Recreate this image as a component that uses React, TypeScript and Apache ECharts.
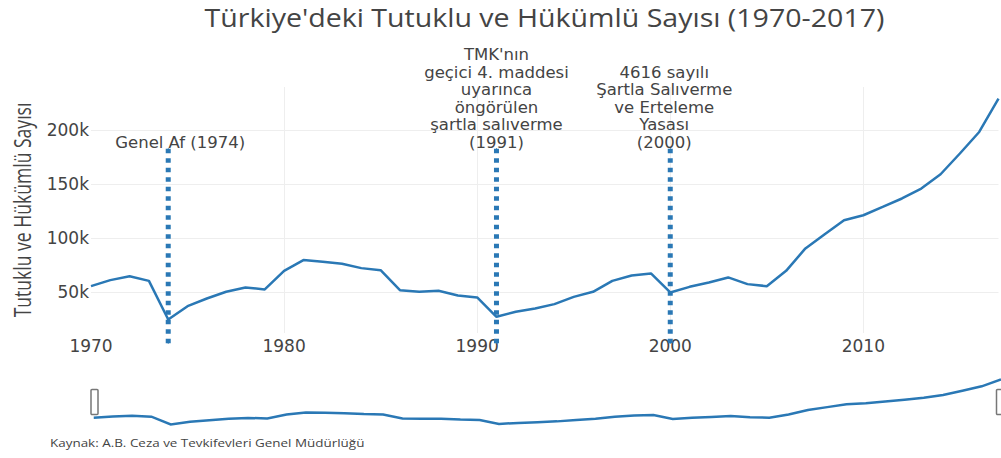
import React, { useEffect, useRef } from 'react';
import * as echarts from 'echarts';

const years = [
  1970, 1971, 1972, 1973, 1974, 1975, 1976, 1977, 1978, 1979,
  1980, 1981, 1982, 1983, 1984, 1985, 1986, 1987, 1988, 1989,
  1990, 1991, 1992, 1993, 1994, 1995, 1996, 1997, 1998, 1999,
  2000, 2001, 2002, 2003, 2004, 2005, 2006, 2007, 2008, 2009,
  2010, 2011, 2012, 2013, 2014, 2015, 2016, 2017,
];
const prisoners = [
  55800, 61400, 65000, 60700, 25000, 37300, 44400, 50600, 54600, 52800,
  70000, 79900, 78300, 76500, 72500, 70600, 52100, 50600, 51500, 47200,
  45400, 27500, 32100, 35200, 39200, 45900, 50600, 60700, 65700, 67600,
  50000, 55200, 59200, 63900, 57700, 55800, 70000, 90700, 103900, 116800,
  121400, 129100, 136900, 146100, 159300, 178500, 198400, 229300,
];

const annotationYears = [1974, 1991, 2000];
const annotationTexts = [
  'Genel Af (1974)',
  "TMK'nın\ngeçici 4. maddesi\nuyarınca\nöngörülen\nşartla salıverme\n(1991)",
  '4616 sayılı\nŞartla Salıverme\nve Erteleme\nYasası\n(2000)',
];
const annotationTop = 183000;
const annotationBottom = 3000;

const titleText = "Türkiye'deki Tutuklu ve Hükümlü Sayısı (1970-2017)";
const yAxisTitle = 'Tutuklu ve Hükümlü Sayısı';
const sourceText = 'Kaynak: A.B. Ceza ve Tevkifevleri Genel Müdürlüğü';

const LINE_COLOR = '#2a78b5';
const TEXT_COLOR = '#444';
const labelOffsets = [12, 0, -6];

function measure(font: string, text: string): number {
  const c = document.createElement('canvas');
  const ctx = c.getContext('2d');
  if (!ctx) return 100;
  ctx.font = font;
  return ctx.measureText(text).width;
}

export default function App() {
  const ref = useRef<HTMLDivElement>(null);

  useEffect(() => {
    document.body.style.margin = '0';
    if (!ref.current) return;
    const chart = echarts.init(ref.current, undefined, { renderer: 'svg' });

    const titleW = measure("26px 'Open Sans'", titleText);
    const yTitleW = measure("24px 'Open Sans'", yAxisTitle);
    const srcW = measure("11px 'Open Sans'", sourceText);

    const annotationSeries = annotationYears.map((yr, i) => ({
      type: 'line',
      data: [
        {
          value: [yr, annotationTop],
          label: {
            show: true,
            position: 'top',
            distance: 0,
            offset: [labelOffsets[i], 3],
            formatter: annotationTexts[i],
            color: TEXT_COLOR,
            fontFamily: 'DejaVu Sans',
            fontSize: 16.5,
            lineHeight: 17.5,
            align: 'center',
          },
        },
        { value: [yr, annotationBottom] },
      ],
      clip: false,
      silent: true,
      symbol: 'circle',
      symbolSize: 1,
      showSymbol: true,
      itemStyle: { color: LINE_COLOR },
      lineStyle: { color: LINE_COLOR, width: 5, type: [4.5, 5] },
      z: 3,
    }));

    const option: any = {
      animation: false,
      grid: {
        left: 91,
        right: 2.5,
        top: 87,
        bottom: 125,
        containLabel: false,
        outerBoundsMode: 'none',
      },
      xAxis: {
        type: 'value',
        min: 1970,
        max: 2017,
        axisLine: { show: false },
        axisTick: { show: false },
        splitLine: {
          show: true,
          showMinLine: false,
          showMaxLine: false,
          lineStyle: { color: '#eee', width: 1 },
        },
        axisLabel: {
          showMaxLabel: false,
          margin: 4,
          color: TEXT_COLOR,
          fontSize: 17,
          fontFamily: 'DejaVu Sans',
          formatter: (v: number) => String(v),
        },
      },
      yAxis: {
        type: 'value',
        min: 12500,
        max: 240000,
        axisLine: { show: false },
        axisTick: { show: false },
        splitLine: {
          show: true,
          showMinLine: false,
          showMaxLine: false,
          lineStyle: { color: '#eee', width: 1 },
        },
        axisLabel: {
          showMinLabel: false,
          showMaxLabel: false,
          margin: 2,
          color: TEXT_COLOR,
          fontSize: 17,
          fontFamily: 'DejaVu Sans',
          formatter: (v: number) => v / 1000 + 'k',
        },
      },
      dataZoom: [
        {
          type: 'slider',
          xAxisIndex: 0,
          filterMode: 'none',
          start: 0,
          end: 100,
          left: 91,
          right: 2.5,
          top: 366,
          height: 72,
          backgroundColor: 'rgba(0,0,0,0)',
          borderColor: 'rgba(0,0,0,0)',
          fillerColor: 'rgba(0,0,0,0)',
          showDetail: false,
          showDataShadow: true,
          brushSelect: false,
          moveHandleSize: 0,
          moveHandleStyle: { opacity: 0 },
          dataBackground: {
            lineStyle: { color: LINE_COLOR, width: 2.5, opacity: 1 },
            areaStyle: { opacity: 0 },
          },
          selectedDataBackground: {
            lineStyle: { color: LINE_COLOR, width: 2.5, opacity: 1 },
            areaStyle: { opacity: 0 },
          },
          handleIcon:
            'path://M1,0 h5 a1,1 0 0 1 1,1 v23 a1,1 0 0 1 -1,1 h-5 a1,1 0 0 1 -1,-1 v-23 a1,1 0 0 1 1,-1 z',
          handleSize: 25,
          handleStyle: { color: '#fff', borderColor: '#777', borderWidth: 1.5 },
          emphasis: {
            handleStyle: { color: '#fff', borderColor: '#777', borderWidth: 1.5 },
            moveHandleStyle: { opacity: 0 },
          },
          textStyle: { color: 'rgba(0,0,0,0)' },
        },
      ],
      graphic: [
        {
          type: 'text',
          x: 544.5,
          y: 17,
          scaleX: 680 / titleW,
          style: {
            text: titleText,
            fontSize: 26,
            fontFamily: 'Open Sans',
            fill: TEXT_COLOR,
            align: 'center',
            verticalAlign: 'middle',
          },
        },
        {
          type: 'text',
          x: 22,
          y: 210,
          rotation: Math.PI / 2,
          scaleX: 215 / yTitleW,
          style: {
            text: yAxisTitle,
            fontSize: 24,
            fontFamily: 'Open Sans',
            fill: TEXT_COLOR,
            align: 'center',
            verticalAlign: 'middle',
          },
        },
        {
          type: 'text',
          x: 50,
          y: 443,
          scaleX: 315 / srcW,
          style: {
            text: sourceText,
            fontSize: 11,
            fontFamily: 'Open Sans',
            fill: TEXT_COLOR,
            align: 'left',
            verticalAlign: 'middle',
          },
        },
      ],
      series: [
        {
          type: 'line',
          data: years.map((y, i) => [y, prisoners[i]]),
          showSymbol: false,
          symbol: 'none',
          lineStyle: { color: LINE_COLOR, width: 2.5 },
          itemStyle: { color: LINE_COLOR },
          z: 4,
        },
        ...annotationSeries,
      ],
    };

    chart.setOption(option);
    return () => chart.dispose();
  }, []);

  return <div ref={ref} style={{ width: 1001, height: 458 }} />;
}
